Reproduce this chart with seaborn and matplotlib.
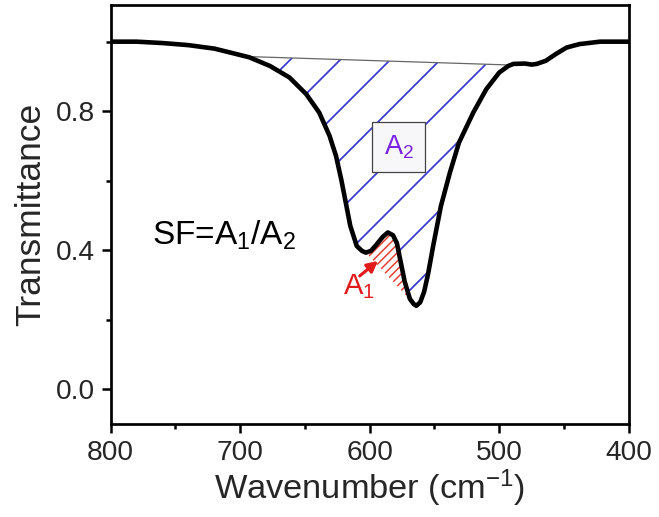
import numpy as np
import pandas as pd
import matplotlib
matplotlib.use("Agg")
import matplotlib.pyplot as plt
from matplotlib.ticker import MultipleLocator
import seaborn as sns

# ---- data ----
wavenumber = [800, 780, 760, 740, 720, 708, 693, 677, 662, 649, 639, 631, 626, 622,
              619, 615, 610, 606, 603, 599, 595, 590, 586, 582, 579, 576, 573, 569,
              566, 564, 561, 558, 555, 551, 545, 538, 531, 520, 510, 500, 493, 489,
              480, 475, 471, 464, 456, 448, 438, 422, 410, 400]
transmittance = [1.0, 1.0, 0.996, 0.99, 0.98, 0.969, 0.955, 0.930, 0.897, 0.849, 0.796,
                 0.729, 0.671, 0.604, 0.547, 0.470, 0.412, 0.398, 0.393, 0.398, 0.415,
                 0.438, 0.451, 0.443, 0.420, 0.365, 0.310, 0.260, 0.245, 0.240, 0.250,
                 0.280, 0.330, 0.412, 0.527, 0.624, 0.710, 0.796, 0.863, 0.911, 0.930,
                 0.936, 0.937, 0.934, 0.936, 0.945, 0.965, 0.983, 0.993, 1.0, 1.0, 1.0]

# A2 baseline (straight line between two points on the curve)
base_x = [693, 493]
base_y = [0.957, 0.933]
# A1 line (from the local minimum to the descending branch)
a1_x = [603, 569]
a1_y = [0.393, 0.258]

x_ticks = [800, 700, 600, 500, 400]
y_ticks = [0.0, 0.4, 0.8]

# ---- style ----
sns.set_theme(style="ticks")
plt.rcParams["font.family"] = ["Liberation Sans", "DejaVu Sans"]
plt.rcParams["mathtext.fontset"] = "custom"
plt.rcParams["mathtext.rm"] = "Liberation Sans"
plt.rcParams["mathtext.it"] = "Liberation Sans:italic"
plt.rcParams["mathtext.bf"] = "Liberation Sans:bold"

DPI = 150
fig = plt.figure(figsize=(659 / DPI, 517 / DPI), dpi=DPI)
ax = fig.add_axes([0.168, 0.180, 0.786, 0.810])

df = pd.DataFrame({"Wavenumber": wavenumber, "Transmittance": transmittance})
x = np.array(wavenumber, dtype=float)
y = np.array(transmittance, dtype=float)

# A2 hatched region
bx = np.interp(x, base_x[::-1], base_y[::-1])
mask2 = (x <= base_x[0]) & (x >= base_x[1])
with plt.rc_context({"hatch.linewidth": 0.85, "hatch.color": "#3a3ad0"}):
    ax.fill_between(x, y, bx, where=mask2, facecolor="none", edgecolor="#3a3ad0",
                    hatch="/", linewidth=0, zorder=1)
ax.plot(base_x, base_y, color="#666666", linewidth=0.6, zorder=2)

# A1 hatched region (polygon from the curve segment and the straight line)
seg = (x <= a1_x[0]) & (x >= a1_x[1])
poly_x = np.concatenate([[a1_x[0]], x[seg], [a1_x[1]]])
poly_top = np.concatenate([[a1_y[0]], y[seg], [a1_y[1]]])
poly_bot = np.interp(poly_x, a1_x[::-1], a1_y[::-1])
with plt.rc_context({"hatch.linewidth": 0.7, "hatch.color": "#e5392c"}):
    ax.fill_between(poly_x, poly_top, poly_bot, facecolor="none", edgecolor="#e5392c",
                    hatch="//////", linewidth=0, zorder=1)

sns.lineplot(data=df, x="Wavenumber", y="Transmittance", color="black",
             linewidth=2.2, sort=False, ax=ax, zorder=3)

ax.set_xlim(800, 400)
ax.set_ylim(-0.1, 1.105)
ax.set_xticks(x_ticks)
ax.set_yticks(y_ticks)
ax.set_yticklabels([f"{v:.1f}" for v in y_ticks])
ax.xaxis.set_minor_locator(MultipleLocator(50))
ax.yaxis.set_minor_locator(MultipleLocator(0.2))
ax.tick_params(which="major", direction="out", length=4.5, width=1.2,
               labelsize=13.5, color="black", pad=3)
ax.tick_params(which="minor", direction="out", length=2.5, width=1.2, color="black")
for s in ax.spines.values():
    s.set_visible(True)
    s.set_linewidth(1.3)
    s.set_color("black")

ax.set_xlabel("Wavenumber (cm$^{-1}$)", fontsize=16.5, labelpad=1)
ax.set_ylabel("Transmittance", fontsize=17, labelpad=4)

# annotations
ax.text(768, 0.417, r"SF=A$_\mathregular{1}$/A$_\mathregular{2}$", fontsize=16,
        ha="left", va="baseline", color="black")
ax.text(577.5, 0.696, r"A$_\mathregular{2}$", fontsize=13, ha="center", va="center",
        color="#7a22e0",
        bbox=dict(boxstyle="square,pad=0.42", facecolor="#f7f7fa", edgecolor="#444444",
                  linewidth=0.6), zorder=4)
ax.text(621, 0.273, r"A$_\mathregular{1}$", fontsize=14, color="#e31a1c",
        ha="left", va="baseline")
ax.annotate("", xy=(593.6, 0.369), xytext=(607.7, 0.326),
            arrowprops=dict(arrowstyle="-|>,head_length=0.35,head_width=0.18",
                            color="#e31a1c", lw=1.5, shrinkA=0, shrinkB=0))

fig.savefig("out.png", dpi=DPI)
